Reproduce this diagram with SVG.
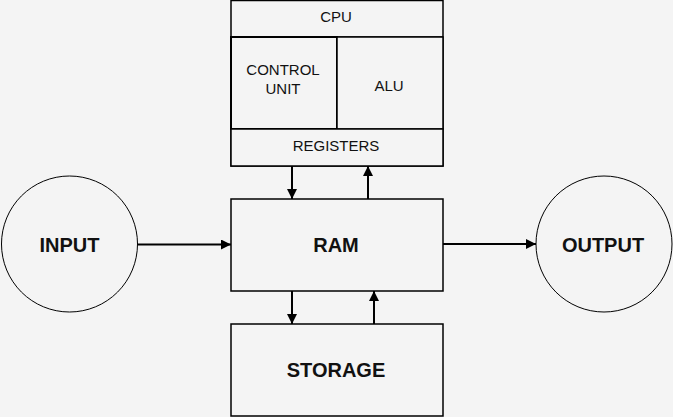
<svg xmlns="http://www.w3.org/2000/svg" width="673" height="417" viewBox="0 0 673 417">
<style>
.box{fill:#f4f4f4;stroke:#000;stroke-width:1.5}
.cu{fill:#f4f4f4;stroke:#000;stroke-width:2}
.circ{fill:#f4f4f4;stroke:#000;stroke-width:1}
.t{font-family:"Liberation Sans",Arial,sans-serif;font-size:15px;fill:#111;text-anchor:middle}
.b{font-family:"Liberation Sans",Arial,sans-serif;font-size:20px;font-weight:bold;fill:#111;text-anchor:middle}
.c{stroke:#000;stroke-width:2;fill:none;marker-end:url(#ah)}
</style>
<defs>
<marker id="ah" viewBox="0 0 10 10" refX="10" refY="5" markerWidth="10" markerHeight="10" markerUnits="userSpaceOnUse" orient="auto">
<path d="M0,0 L10,5 L0,10 Z" fill="#000"/>
</marker>
</defs>
<rect width="673" height="417" fill="#f4f4f4"/>
<g id="cpu">
<rect class="box" x="231" y="0.5" width="212" height="165.5"/>
<line x1="231" y1="37" x2="443" y2="37" stroke="#000" stroke-width="1.5"/>
<text class="t" x="336" y="22">CPU</text>
</g>
<g id="control-unit">
<rect class="cu" x="231" y="37" width="106" height="92"/>
<text class="t" x="283" y="75">CONTROL</text>
<text class="t" x="283" y="94">UNIT</text>
</g>
<g id="alu">
<rect class="box" x="337" y="37" width="106" height="92"/>
<text class="t" x="389" y="91">ALU</text>
</g>
<g id="registers">
<rect class="box" x="231" y="129" width="212" height="37"/>
<text class="t" x="336" y="151">REGISTERS</text>
</g>
<g id="ram">
<rect class="box" x="231" y="199" width="212" height="92"/>
<text class="b" x="336" y="252">RAM</text>
</g>
<g id="storage">
<rect class="box" x="231" y="324" width="212" height="92"/>
<text class="b" x="336" y="377">STORAGE</text>
</g>
<g id="input">
<circle class="circ" cx="69.5" cy="244" r="68"/>
<text class="b" x="69.5" y="252">INPUT</text>
</g>
<g id="output">
<circle class="circ" cx="604" cy="244" r="68"/>
<text class="b" x="603" y="252">OUTPUT</text>
</g>
<g id="connectors">
<line class="c" x1="138" y1="244.5" x2="231" y2="244.5"/>
<line class="c" x1="443" y1="244" x2="536" y2="244"/>
<line class="c" x1="292" y1="166" x2="292" y2="199"/>
<line class="c" x1="368" y1="199" x2="368" y2="166"/>
<line class="c" x1="292" y1="291" x2="292" y2="324"/>
<line class="c" x1="374" y1="324" x2="374" y2="291"/>
</g>
</svg>
